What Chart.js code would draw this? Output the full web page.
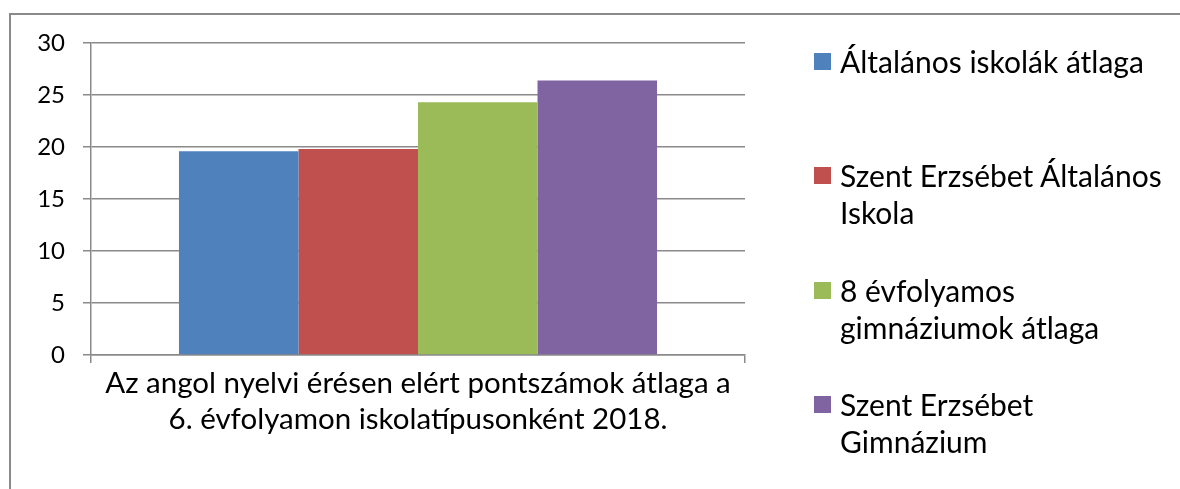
<!DOCTYPE html>
<html>
<head>
<meta charset="utf-8">
<script src="https://cdn.jsdelivr.net/npm/chart.js@4/dist/chart.umd.min.js"></script>
<style>
  body { margin: 0; background: #fff; }
  #wrap { position: relative; width: 1180px; height: 489px; overflow: hidden; }
  #frame { position: absolute; left: 9px; top: 13px; width: 1300px; height: 600px;
           border-left: 2px solid #8a8a8a; border-top: 2px solid #8a8a8a; }
  #chart { position: absolute; left: 0; top: 0; }
  #legend { position: absolute; left: 814px; top: 0; font-family: Lato, sans-serif;
            font-size: 30px; color: #000; }
  .item { position: absolute; left: 0; display: flex; align-items: flex-start; white-space: nowrap; }
  .box { width: 17px; height: 17px; margin-top: 10px; margin-right: 9px; flex: none; }
  .txt { line-height: 37px; }
</style>
</head>
<body>
<div id="wrap">
  <div id="frame"></div>
  <canvas id="chart" width="1180" height="489"></canvas>
  <div id="legend"></div>
</div>
<script>
const categories = [""];
const seriesNames = [
  ["Általános iskolák átlaga"],
  ["Szent Erzsébet Általános", "Iskola"],
  ["8 évfolyamos", "gimnáziumok átlaga"],
  ["Szent Erzsébet", "Gimnázium"],
];
const seriesValues = [19.6, 19.8, 24.3, 26.4];
const seriesColors = ["#4F81BD", "#C0504D", "#9BBB59", "#8064A2"];
const axisTitle = [
  "Az angol nyelvi érésen elért pontszámok átlaga a",
  "6. évfolyamon iskolatípusonként 2018.",
];
const yMin = 0;
const yMax = 30;
const yStep = 5;

const gridColor = "#8a8a8a";

const ctx = document.getElementById("chart");

const chart = new Chart(ctx, {
  type: "bar",
  data: {
    labels: categories,
    datasets: seriesNames.map((name, i) => ({
      label: name.join(" "),
      data: [seriesValues[i]],
      backgroundColor: seriesColors[i],
      borderWidth: 0,
      categoryPercentage: 0.731,
      barPercentage: 1,
    })),
  },
  options: {
    responsive: false,
    animation: false,
    layout: {
      padding: { left: 0, top: 43, right: 435, bottom: 52 },
    },
    plugins: {
      legend: { display: false },
      tooltip: { enabled: false },
    },
    scales: {
      x: {
        grid: {
          drawOnChartArea: false,
          drawTicks: true,
          tickLength: 8,
          color: gridColor,
          lineWidth: 1.5,
        },
        border: { color: gridColor, width: 1.5 },
        ticks: { display: false },
        title: {
          display: true,
          text: axisTitle,
          color: "#000",
          font: { family: "Lato", size: 29.5, lineHeight: "36px" },
          padding: { top: 0, bottom: 0 },
        },
        afterFit: (scale) => {
          scale.height = 82;
        },
      },
      y: {
        min: yMin,
        max: yMax,
        ticks: {
          stepSize: yStep,
          color: "#000",
          font: { family: "Lato", size: 24 },
          padding: 18,
        },
        grid: {
          color: gridColor,
          lineWidth: 1.5,
          tickLength: 8,
        },
        border: { color: gridColor, width: 1.5 },
        afterFit: (scale) => {
          scale.width = 91;
        },
      },
    },
  },
});

// legend drawn as html, built from the chart datasets
const legend = document.getElementById("legend");
chart.data.datasets.forEach((ds, i) => {
  const item = document.createElement("div");
  item.className = "item";
  item.style.top = (61 - 18.5 + i * 114.5) + "px";
  const box = document.createElement("div");
  box.className = "box";
  box.style.background = ds.backgroundColor;
  const txt = document.createElement("div");
  txt.className = "txt";
  txt.innerHTML = seriesNames[i].join("<br>");
  item.appendChild(box);
  item.appendChild(txt);
  legend.appendChild(item);
});
</script>
</body>
</html>
